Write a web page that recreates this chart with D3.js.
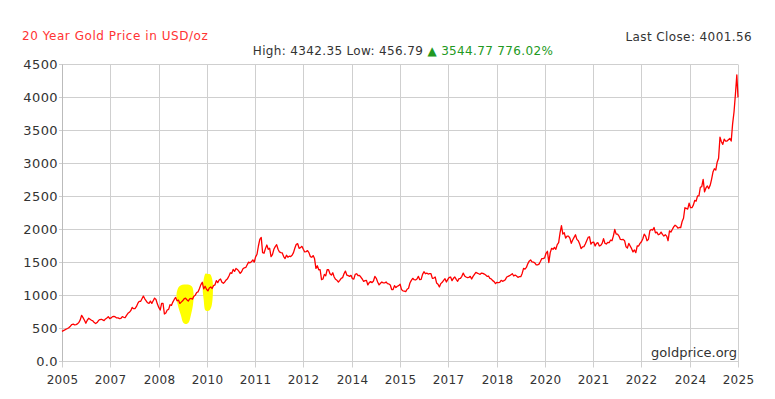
<!DOCTYPE html>
<html>
<head>
<meta charset="utf-8">
<script src="https://cdn.jsdelivr.net/npm/d3@7"></script>
<style>
  body { margin: 0; background: #fff; }
  svg { display: block; font-family: "DejaVu Sans", Verdana, sans-serif; }
</style>
</head>
<body>
<svg id="chart" width="775" height="399"></svg>
<script>
// semi-monthly gold closes (USD/oz), two values per month, Jan..Dec
const gold2005 = [null, null, null, null, null, null, null, null, null, null, null, null,
  null, null, null, null, null, null, 456.79, 468, 478, 492, 500, 515];
const gold2006 = [535, 560, 565, 555, 560, 570, 590, 630, 700, 665, 625, 580, 625, 655, 640, 625, 615, 590, 575, 590, 620, 635, 640, 630];
const gold2007 = [620, 645, 660, 680, 650, 660, 680, 685, 675, 660, 660, 650, 655, 680, 670, 665, 700, 730, 745, 770, 820, 800, 800, 830];
const gold2008 = [880, 910, 910, 950, 990, 950, 920, 890, 880, 915, 880, 920, 960, 940, 870, 820, 780, 880, 880, 720, 735, 780, 790, 860];
const gold2009 = [850, 900, 940, 970, 920, 930, 880, 900, 920, 950, 960, 935, 915, 950, 955, 945, 990, 1005, 1045, 1055, 1105, 1165, 1200, 1100];
const gold2010 = [1140, 1095, 1070, 1115, 1130, 1105, 1150, 1160, 1225, 1195, 1235, 1250, 1200, 1185, 1205, 1235, 1255, 1295, 1345, 1335, 1395, 1365, 1410, 1395];
const gold2011 = [1370, 1335, 1360, 1405, 1420, 1425, 1465, 1505, 1495, 1510, 1540, 1505, 1585, 1625, 1750, 1850, 1880, 1650, 1640, 1710, 1765, 1700, 1715, 1590];
const gold2012 = [1620, 1700, 1740, 1770, 1700, 1660, 1650, 1645, 1590, 1560, 1610, 1580, 1595, 1590, 1610, 1650, 1720, 1775, 1785, 1715, 1725, 1745, 1700, 1660];
const gold2013 = [1665, 1680, 1650, 1590, 1580, 1605, 1560, 1410, 1450, 1390, 1390, 1240, 1250, 1320, 1300, 1390, 1390, 1330, 1310, 1345, 1280, 1245, 1230, 1205];
const gold2014 = [1230, 1260, 1270, 1330, 1370, 1310, 1300, 1290, 1305, 1255, 1250, 1320, 1330, 1300, 1305, 1280, 1250, 1215, 1225, 1230, 1160, 1195, 1210, 1195];
const gold2015 = [1220, 1290, 1260, 1205, 1160, 1185, 1205, 1190, 1190, 1205, 1180, 1175, 1160, 1090, 1090, 1150, 1120, 1140, 1150, 1170, 1090, 1070, 1065, 1060];
const gold2016 = [1095, 1110, 1190, 1230, 1260, 1240, 1235, 1250, 1290, 1240, 1245, 1320, 1360, 1330, 1340, 1325, 1330, 1330, 1260, 1265, 1280, 1190, 1170, 1130];
const gold2017 = [1180, 1200, 1230, 1255, 1205, 1245, 1275, 1280, 1225, 1260, 1280, 1245, 1215, 1255, 1260, 1290, 1340, 1295, 1280, 1270, 1275, 1290, 1250, 1290];
const gold2018 = [1320, 1350, 1340, 1330, 1320, 1340, 1335, 1325, 1310, 1290, 1295, 1260, 1250, 1225, 1210, 1180, 1200, 1195, 1200, 1230, 1215, 1225, 1240, 1280];
const gold2019 = [1290, 1300, 1315, 1330, 1295, 1310, 1295, 1275, 1285, 1285, 1335, 1410, 1400, 1425, 1480, 1520, 1540, 1510, 1505, 1495, 1465, 1465, 1475, 1515];
const gold2020 = [1560, 1560, 1570, 1640, 1670, 1500, 1650, 1715, 1700, 1730, 1700, 1770, 1800, 1950, 2060, 1930, 1950, 1870, 1900, 1900, 1870, 1790, 1840, 1880];
const gold2021 = [1920, 1850, 1830, 1780, 1710, 1735, 1740, 1780, 1830, 1880, 1890, 1780, 1805, 1810, 1750, 1790, 1800, 1750, 1760, 1790, 1860, 1790, 1780, 1805];
const gold2022 = [1800, 1840, 1830, 1900, 2000, 1930, 1930, 1900, 1850, 1845, 1850, 1830, 1740, 1720, 1790, 1750, 1710, 1660, 1690, 1650, 1750, 1750, 1790, 1815];
const gold2023 = [1860, 1930, 1900, 1830, 1850, 1980, 2000, 1990, 2030, 1950, 1960, 1920, 1930, 1960, 1925, 1900, 1920, 1900, 1830, 1980, 1960, 2000, 2040, 2065];
const gold2024 = [2050, 2020, 2030, 2030, 2120, 2170, 2330, 2320, 2310, 2400, 2330, 2330, 2370, 2440, 2430, 2510, 2510, 2640, 2650, 2760, 2570, 2630, 2660, 2620];
const gold2025 = [2670, 2760, 2870, 2920, 2900, 3020, 3080, 3400, 3330, 3290, 3370, 3340, 3340, 3360, 3380, 3340, 3600, 3780, 4050, 4342.35];
const lastClose = 4001.56;

const years = [2005, 2006, 2007, 2008, 2009, 2010, 2011, 2012, 2013, 2014, 2015,
  2016, 2017, 2018, 2019, 2020, 2021, 2022, 2023, 2024, 2025];
const yearSeries = [gold2005, gold2006, gold2007, gold2008, gold2009, gold2010, gold2011,
  gold2012, gold2013, gold2014, gold2015, gold2016, gold2017, gold2018, gold2019,
  gold2020, gold2021, gold2022, gold2023, gold2024, gold2025];

const xTickLabels = ['2005', '2007', '2008', '2010', '2011', '2012', '2014', '2015',
  '2017', '2018', '2020', '2021', '2022', '2024', '2025'];
const yTicks = [0, 500, 1000, 1500, 2000, 2500, 3000, 3500, 4000, 4500];

// yellow highlighter marks, in (year, price)
const mark1 = [[2009.25, 1135], [2009.45, 1165], [2009.63, 1135], [2009.68, 1008], [2009.66, 856],
  [2009.60, 705], [2009.54, 598], [2009.45, 568], [2009.36, 598], [2009.30, 705], [2009.21, 856], [2009.17, 1008]];
const mark2 = [[2010.01, 1311], [2010.10, 1326], [2010.19, 1311], [2010.25, 1189], [2010.25, 1008],
  [2010.22, 856], [2010.16, 780], [2010.07, 765], [2010.01, 795], [2009.98, 932], [2009.95, 1114]];

// flatten to points
const data = [];
yearSeries.forEach((arr, k) => {
  arr.forEach((v, i) => {
    if (v !== null) data.push({ t: years[k] + i / 24 + 1 / 48, v: v });
  });
});
data.push({ t: 2025 + 19 / 24 + 1 / 48 + 0.035, v: lastClose });

const svg = d3.select('#chart');
const margin = { top: 64.5, right: 37, bottom: 37.5, left: 62 };
const width = 775, height = 399;

const x = d3.scaleLinear()
  .domain(d3.extent(data, d => d.t))
  .range([margin.left, width - margin.right]);

const y = d3.scaleLinear()
  .domain([0, 4500])
  .range([height - margin.bottom, margin.top]);

const gridColor = '#cfcfcf';

// horizontal grid + y labels
svg.append('g').selectAll('line')
  .data(yTicks)
  .enter().append('line')
  .attr('x1', margin.left - 3)
  .attr('x2', width - margin.right)
  .attr('y1', d => y(d))
  .attr('y2', d => y(d))
  .attr('stroke', gridColor)
  .attr('stroke-width', 1);

svg.append('g').selectAll('text')
  .data(yTicks)
  .enter().append('text')
  .attr('x', margin.left - 4)
  .attr('y', d => y(d))
  .attr('dy', '0.36em')
  .attr('text-anchor', 'end')
  .style('font-size', '13px')
  .style('letter-spacing', '0.4px')
  .style('fill', '#333')
  .text(d => d === 0 ? '0.0' : d);

// vertical grid, evenly spaced ticks
const [t0, t1] = x.domain();
const xTicks = xTickLabels.map((lab, i) => ({ lab: lab, t: t0 + i * (t1 - t0) / (xTickLabels.length - 1) }));

svg.append('g').selectAll('line')
  .data(xTicks)
  .enter().append('line')
  .attr('x1', d => Math.round(x(d.t)) + 0.5)
  .attr('x2', d => Math.round(x(d.t)) + 0.5)
  .attr('y1', margin.top)
  .attr('y2', height - margin.bottom + 6)
  .attr('stroke', gridColor)
  .attr('stroke-width', 1);

svg.append('g').selectAll('text')
  .data(xTicks)
  .enter().append('text')
  .attr('x', d => Math.round(x(d.t)) + 0.5)
  .attr('y', 384)
  .attr('text-anchor', 'middle')
  .style('font-size', '12px')
  .style('letter-spacing', '0.3px')
  .style('fill', '#333')
  .text(d => d.lab);

// axis line
svg.append('line')
  .attr('x1', margin.left + 0.5).attr('x2', margin.left + 0.5)
  .attr('y1', margin.top).attr('y2', height - margin.bottom)
  .attr('stroke', '#bbb');

// highlighter marks
const blob = d3.line()
  .x(d => x(d[0]))
  .y(d => y(d[1]))
  .curve(d3.curveCardinalClosed);

svg.append('g').selectAll('path')
  .data([mark1, mark2])
  .enter().append('path')
  .attr('d', blob)
  .attr('fill', '#ffff00')
  .attr('stroke', 'none');

// price line
svg.append('path')
  .datum(data)
  .attr('d', d3.line().x(d => x(d.t)).y(d => y(d.v)))
  .attr('fill', 'none')
  .attr('stroke', '#ff0000')
  .attr('stroke-width', 1.3)
  .attr('stroke-linejoin', 'round');

// header texts
const high = d3.max(data, d => d.v);
const low = d3.min(data, d => d.v);
const first = data[0].v;
const change = lastClose - first;
const pct = change / first * 100;

svg.append('text')
  .attr('x', 22).attr('y', 40)
  .style('font-size', '12px')
  .style('letter-spacing', '0.55px')
  .style('fill', '#ff3333')
  .text('20 Year Gold Price in USD/oz');

svg.append('text')
  .attr('x', 752).attr('y', 41)
  .attr('text-anchor', 'end')
  .style('font-size', '12px')
  .style('letter-spacing', '0.4px')
  .style('fill', '#333')
  .text('Last Close: ' + lastClose.toFixed(2));

const hdr = svg.append('text')
  .attr('x', 403).attr('y', 55)
  .attr('text-anchor', 'middle')
  .style('font-size', '12px')
  .style('letter-spacing', '0.35px');
hdr.append('tspan').style('fill', '#333')
  .text('High: ' + high.toFixed(2) + ' Low: ' + low.toFixed(2) + ' ');
hdr.append('tspan').style('fill', '#229922')
  .text('\u25B2 ' + change.toFixed(2) + ' ' + pct.toFixed(2) + '%');

svg.append('text')
  .attr('x', 737).attr('y', 357)
  .attr('text-anchor', 'end')
  .style('font-size', '13px')
  .style('fill', '#333')
  .text('goldprice.org');
</script>
</body>
</html>
